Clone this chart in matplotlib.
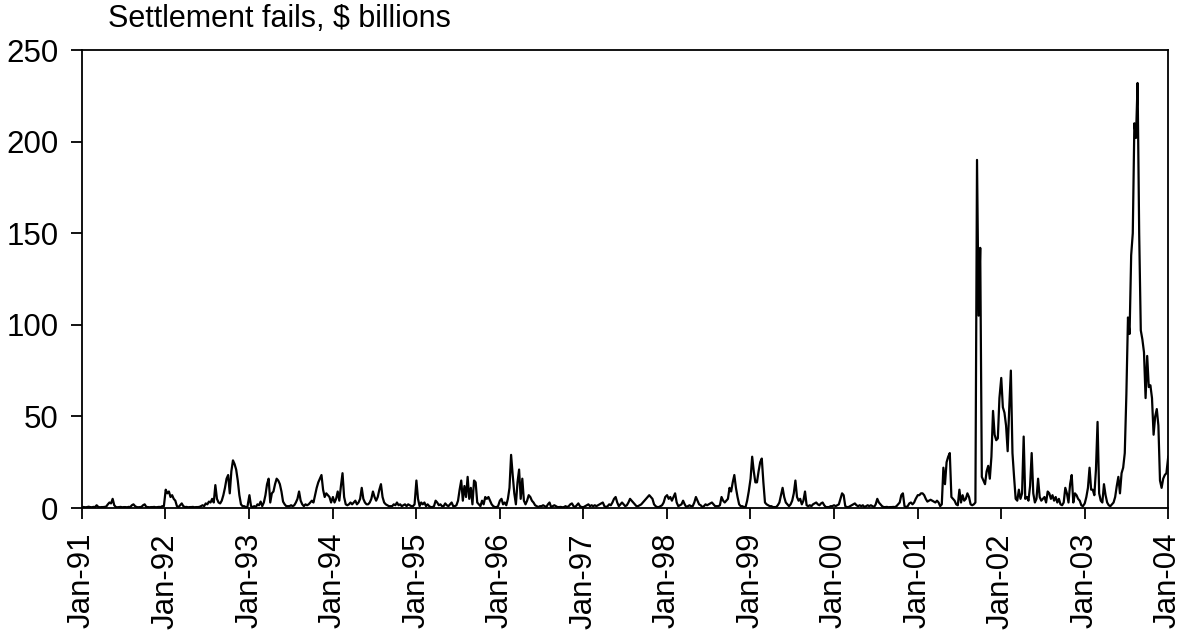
import numpy as np
import pandas as pd
import matplotlib
matplotlib.use("Agg")
import matplotlib.pyplot as plt
import matplotlib.dates as mdates

plt.rcParams['font.family'] = ['Liberation Sans', 'DejaVu Sans']

# weekly settlement fails, $ billions (one list per year)
f1991 = [0.6, 0.5, 0.4, 0.5, 0.7, 0.5, 0.4, 0.6, 0.5, 1.5,
         0.6, 0.4, 0.5, 0.5, 0.6, 0.8, 2.0, 3.0, 2.5, 5.0,
         1.5, 0.5, 0.4, 0.5, 0.6, 0.4, 0.5, 0.5, 0.4, 0.6,
         0.5, 1.5, 2.0, 1.0, 0.5, 0.4, 0.5, 0.6, 1.5, 2.0,
         0.6, 0.5, 0.4, 0.5, 0.5, 0.6, 0.4, 0.5, 0.6, 0.5,
         1.0, 1.0]
f1992 = [10, 8, 9, 6, 7, 5, 4, 1, 0.5, 1.5,
         2.5, 1, 0.5, 0.6, 0.4, 0.5, 0.5, 0.6, 0.4, 0.5,
         0.5, 0.6, 1, 1.5, 1, 2.5, 2, 3.5, 3, 5,
         3, 12.5, 5, 3, 2.5, 4, 7, 11, 16, 18,
         8, 20, 26, 24, 21, 15, 7, 2, 1, 1,
         0.5, 0.5]
f1993 = [7, 1, 0.5, 1, 0.5, 2, 1.5, 3.5, 1, 3,
         7, 13, 16, 3, 8, 9, 13, 16, 15, 13,
         9, 3.5, 2, 1, 1, 1, 1.5, 1, 1.5, 3,
         5, 9, 4, 2, 1, 2, 1.5, 2, 3, 4,
         3, 7, 11, 14, 16, 18, 10, 6, 8, 7,
         6, 3]
f1994 = [6, 3, 5, 9, 4, 12, 19, 6, 2, 1.5,
         2, 3, 2, 3, 4, 2, 3, 5, 11, 5,
         3, 2, 2, 3, 5, 9, 6, 4, 6, 10,
         13, 6, 3, 2, 1.5, 1, 1, 1, 2, 1.5,
         3, 1.5, 2, 1, 1.5, 2, 1, 2, 1.5, 1,
         1, 2]
f1995 = [15, 5, 1, 3, 2, 3, 1, 2, 1, 0.5,
         0.5, 1, 4, 3, 1.5, 2, 1, 1, 2.5, 1.5,
         1, 2, 3, 1, 1, 1.5, 4, 10, 15, 4,
         12, 6, 17, 5, 11, 2, 15, 14, 3, 2,
         1, 4, 2, 6, 5, 6, 4, 2, 1, 0.5,
         0.5, 1]
f1996 = [4, 5, 2, 3, 1.5, 5, 11, 29, 18, 8,
         2, 14, 21, 5, 16, 4, 2, 4, 7, 6,
         4, 3, 1.5, 1, 0.5, 1, 1, 1.5, 1, 0.5,
         2, 3, 0.5, 1, 1.5, 1, 0.5, 0.5, 0.6, 0.4,
         0.5, 1, 0.5, 1, 2, 2.5, 1, 0.5, 1.5, 2.5,
         1, 0.5]
f1997 = [0.5, 1, 1.5, 2, 1, 1.5, 1, 1.5, 1, 1.5,
         2, 2.5, 3, 1, 0.5, 1, 2, 1.5, 3, 5,
         6, 3, 1, 2, 3, 2, 1, 1.5, 3, 5,
         4, 3, 2, 1, 1, 1.5, 2, 3, 4, 5,
         6, 7, 6, 5, 2, 1, 0.5, 0.5, 1, 1.5,
         3, 6]
f1998 = [7, 5, 6, 4, 6, 8, 3, 1, 1.5, 2,
         4, 2, 0.5, 1, 1.5, 1, 1, 3, 6, 4,
         2, 1.5, 0.5, 1, 2, 1.5, 2, 2.5, 3, 2,
         1, 1, 1, 1.5, 6, 4, 3, 4, 5, 11,
         9, 14, 18, 11, 6, 2, 1, 1, 0.5, 0.5,
         4, 9]
f1999 = [16, 28, 20, 14, 14, 20, 25, 27, 14, 3,
         2, 1.5, 1, 1, 0.5, 0.5, 0.5, 1.5, 3, 7,
         11, 6, 3, 2, 1, 2, 4, 8, 15, 6,
         4, 5, 2, 4, 9, 1.5, 1, 1.5, 1, 2,
         2.5, 3, 2, 1.5, 2.5, 3, 1.5, 0.5, 0.5, 0.5,
         1, 1]
f2000 = [1.5, 1, 1.5, 2, 5, 8, 7, 1, 0.5, 0.5,
         1, 1.5, 2, 2.5, 1.5, 1, 1.5, 1, 1.5, 0.5,
         1, 1.5, 1, 1.5, 1, 0.5, 2, 5, 3, 2,
         1, 0.5, 0.5, 0.6, 0.4, 0.5, 0.5, 0.6, 0.5, 1,
         2, 3, 7, 8, 1, 0.5, 1, 2.5, 3, 2,
         3, 5]
f2001 = [7, 7, 8, 8, 7, 5, 3.5, 4, 4.5, 4,
         3.5, 3, 4, 3, 1, 2, 22, 13, 25, 28,
         30, 6, 5, 4, 2, 1.5, 10, 3, 7, 4,
         5, 8, 6, 2, 1.5, 2, 3, 190, 105, 142,
         17, 15, 13, 20, 23, 16, 28, 53, 40, 37,
         38, 60]
f2002 = [71, 55, 52, 45, 31, 55, 75, 30, 17, 5,
         4, 10, 5, 8, 39, 5, 6, 4, 12, 30,
         8, 3, 5, 16, 6, 4, 5, 6, 3, 9,
         8, 5, 7, 4, 6, 3, 5, 2, 1.5, 3,
         11, 8, 3, 13, 18, 3, 8, 7, 5, 4,
         1.5, 1]
f2003 = [2.5, 6, 11, 22, 10, 10, 7, 21, 47, 8,
         4, 3, 13, 7, 3, 1.5, 1, 2, 3, 6,
         12, 17, 8, 19, 22, 30, 62, 104, 95, 138,
         150, 210, 202, 232, 150, 97, 92, 85, 60, 83,
         66, 67, 60, 40, 50, 54, 45, 15, 11, 16,
         18, 19]
f2004 = [28]

years = list(range(1991, 2005))
series = [f1991, f1992, f1993, f1994, f1995, f1996, f1997, f1998,
          f1999, f2000, f2001, f2002, f2003, f2004]

dates, values = [], []
for yr, vals in zip(years, series):
    start = pd.Timestamp(yr, 1, 2)
    dates.extend(start + pd.to_timedelta(7 * np.arange(len(vals)), unit='D'))
    values.extend(vals)

fig = plt.figure(figsize=(11.8, 6.34), dpi=100)
ax = fig.add_axes([82 / 1180, 1 - 508 / 634, 1086 / 1180, 458 / 634])

ax.plot(dates, values, color='black', lw=1.6)

ax.set_xlim(pd.Timestamp(1991, 1, 1), pd.Timestamp(2004, 1, 1))
ax.set_ylim(0, 250)
ax.set_yticks(range(0, 251, 50))
ax.xaxis.set_major_locator(mdates.YearLocator())
ax.xaxis.set_major_formatter(mdates.DateFormatter('%b-%y'))

ax.tick_params(axis='both', direction='out', length=8, width=1.3,
               labelsize=22.5, colors='black')
ax.tick_params(axis='y', pad=9)
ax.tick_params(axis='x', pad=10)
plt.setp(ax.get_xticklabels(), rotation=90, ha='center', va='top')
for s in ax.spines.values():
    s.set_linewidth(1.3)
    s.set_color('black')

fig.text(108 / 1180, 1 - 27 / 634, 'Settlement fails, $ billions',
         fontsize=22, ha='left', va='baseline')

fig.savefig('out.png', dpi=100)
